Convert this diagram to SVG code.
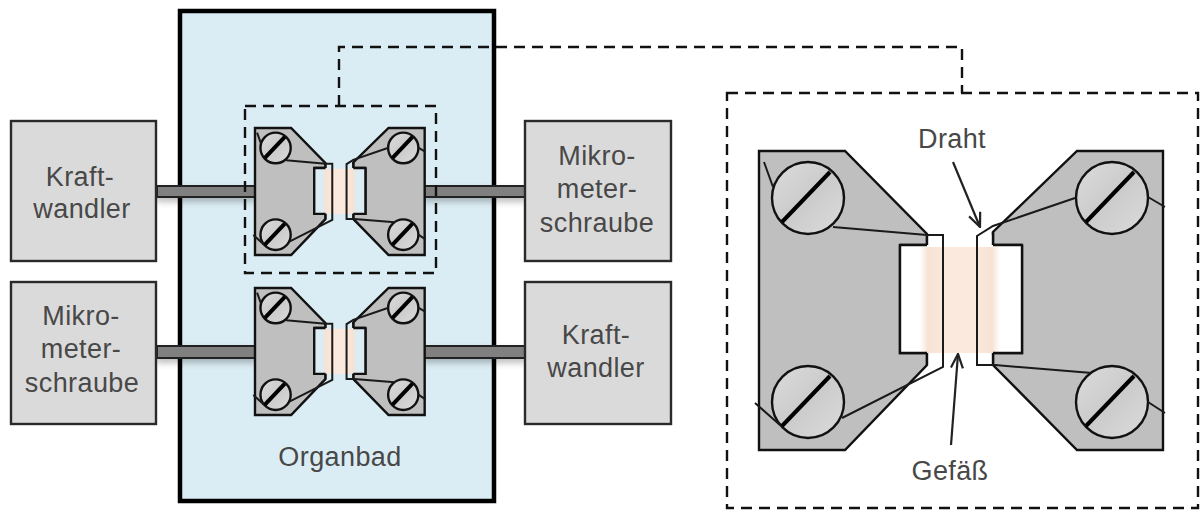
<svg xmlns="http://www.w3.org/2000/svg" width="1200" height="510" viewBox="0 0 1200 510">
<style>
text{font-family:"Liberation Sans",Arial,sans-serif;font-size:27px;letter-spacing:.4px;fill:#484848;text-anchor:middle}
.box{fill:#dadada;stroke:#2a2a2a;stroke-width:2.4}
.rod{fill:#808080;stroke:#222;stroke-width:2}
.dash{fill:none;stroke:#111;stroke-width:2.4;stroke-dasharray:11 7}
.ln{fill:none;stroke:#111;stroke-width:2.4;stroke-linejoin:miter;vector-effect:non-scaling-stroke}
.thin{fill:none;stroke:#1a1a1a;stroke-width:2;vector-effect:non-scaling-stroke}
.plate{fill:#bfbfbf;stroke:#111;stroke-width:2.4;vector-effect:non-scaling-stroke}
.screw{fill:url(#sc);stroke:#111;stroke-width:2.4;vector-effect:non-scaling-stroke}
.slot{fill:none;stroke:#000;stroke-width:4;vector-effect:non-scaling-stroke}
.arrow{fill:none;stroke:#222;stroke-width:2.2;marker-end:url(#open)}
</style>
<defs>
<marker id="open" viewBox="0 0 16 14" refX="15" refY="7" markerWidth="16" markerHeight="14" markerUnits="userSpaceOnUse" orient="auto"><path d="M1 1L15 7L1 13" fill="none" stroke="#222" stroke-width="2.2"/></marker>
<linearGradient id="sc" x1="0" y1="0" x2="1" y2="1"><stop offset="0" stop-color="#dcdcdc"/><stop offset=".5" stop-color="#cbcbcb"/><stop offset="1" stop-color="#dcdcdc"/></linearGradient>
<linearGradient id="ts"><stop offset="0" stop-color="#f6e0d0" stop-opacity="0"/><stop offset=".1" stop-color="#f7e2d3"/><stop offset=".3" stop-color="#fbe9dd"/><stop offset=".7" stop-color="#fbe9dd"/><stop offset=".9" stop-color="#f7e2d3"/><stop offset="1" stop-color="#f6e0d0" stop-opacity="0"/></linearGradient>
<filter id="sh" x="-10%" y="-100%" width="120%" height="400%"><feDropShadow dx="0" dy="4" stdDeviation="3" flood-color="#000" flood-opacity=".25"/></filter>
<g id="clamp">
<path class="plate" d="M759 151H845L927 234V245H900V353H927V365L845 450H759Z"/>
<path class="plate" d="M1163 151H1077L993 232V245H1022V353H993V365L1077 450H1163Z"/>
<path style="fill:var(--gap)" d="M900 245H927V236H943V367L927 365V353H900Z"/>
<path style="fill:var(--gap)" d="M1022 245H993V235H977V365H993V353H1022Z"/>
<rect x="920" y="247" width="80" height="106" fill="url(#ts)"/>
<path class="ln" d="M900 245H927M900 245V353H927M927 234V245M927 353V365"/>
<path class="ln" d="M1022 245H993M1022 245V353H993M993 232V245M993 353V365"/>
<circle class="screw" cx="808" cy="198" r="36"/><circle class="screw" cx="808" cy="402" r="36"/>
<circle class="screw" cx="1112" cy="198" r="36"/><circle class="screw" cx="1112" cy="402" r="36"/>
<path class="slot" d="M782 222L830 172M782 426L830 376M1086 222L1134 172M1086 426L1134 376"/>
<path class="thin" d="M764 162L773 187M833 227L927 235H943V367L842 418M755 403L780 425"/>
<path class="thin" d="M1075 198L993 226L977 236V365H995L1092 373M1148 197L1165 207M1148 402L1165 413"/>
</g>
</defs>
<rect width="1200" height="510" fill="#fff"/>
<g id="organbad"><rect x="180" y="11" width="314" height="490" fill="#dbedf4" stroke="#000" stroke-width="4.5"/><text x="340" y="466">Organbad</text></g>
<g id="connectors">
<rect class="rod" x="157" y="186" width="98" height="11" filter="url(#sh)"/>
<rect class="rod" x="424" y="186" width="101" height="11" filter="url(#sh)"/>
<rect class="rod" x="157" y="346" width="98" height="12" filter="url(#sh)"/>
<rect class="rod" x="424" y="346" width="101" height="12" filter="url(#sh)"/>
<path class="dash" d="M339 106V47H962V93"/>
<path class="arrow" d="M953 162L980 227"/>
<path class="arrow" d="M951 445L958 354"/>
</g>
<g id="frame-small"><rect class="dash" x="245" y="106" width="191" height="167"/></g>
<g id="frame-detail"><rect class="dash" x="727" y="93" width="471" height="415"/></g>
<g id="box-kraft-1"><rect class="box" x="11" y="121" width="145" height="140"/><text x="80" y="186">Kraft-</text><text x="82" y="218">wandler</text></g>
<g id="box-mikro-1"><rect class="box" x="525" y="121" width="146" height="140"/><text x="597" y="165">Mikro-</text><text x="597" y="198">meter-</text><text x="597" y="232">schraube</text></g>
<g id="box-mikro-2"><rect class="box" x="11" y="282" width="145" height="142"/><text x="81" y="325">Mikro-</text><text x="81" y="358">meter-</text><text x="82" y="392">schraube</text></g>
<g id="box-kraft-2"><rect class="box" x="525" y="282" width="146" height="142"/><text x="596" y="344">Kraft-</text><text x="596" y="377">wandler</text></g>
<g id="clamp-top"><use href="#clamp" style="--gap:#dcecf3" transform="matrix(.42 0 0 .425 -63.78 63.825)"/></g>
<g id="clamp-bottom"><use href="#clamp" style="--gap:#dcecf3" transform="matrix(.42 0 0 .425 -63.78 223.825)"/></g>
<g id="clamp-detail"><use href="#clamp" style="--gap:#fff"/></g>
<g id="label-draht"><text x="952" y="148">Draht</text></g>
<g id="label-gefaess"><text x="950" y="480">Gefäß</text></g>
</svg>
